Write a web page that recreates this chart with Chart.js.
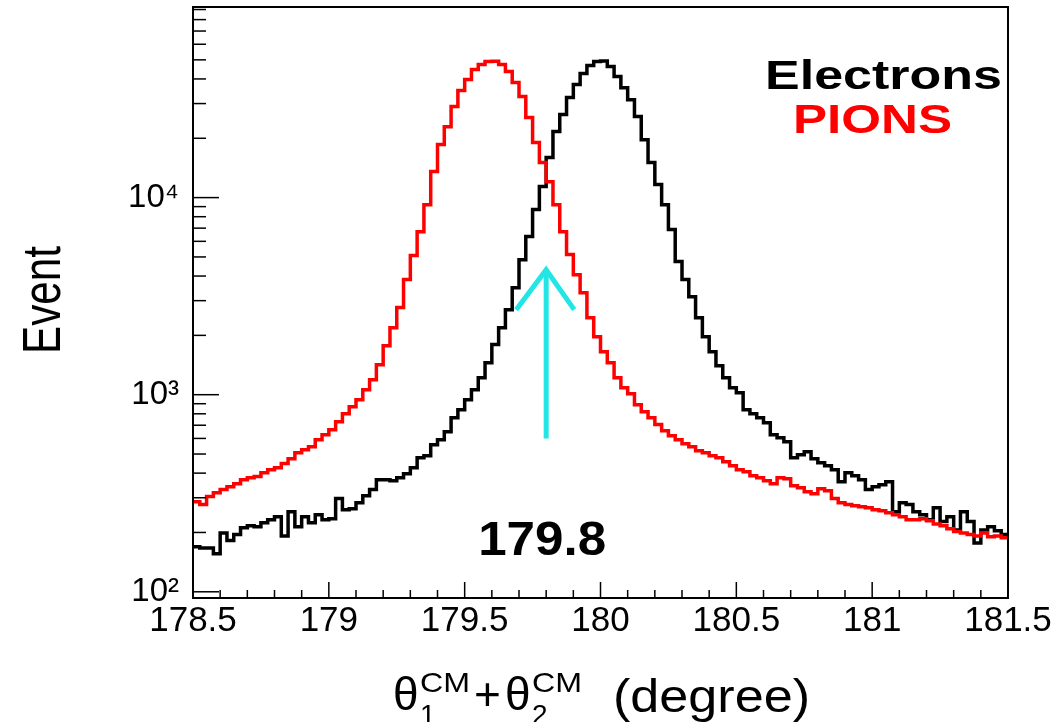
<!DOCTYPE html>
<html>
<head>
<meta charset="utf-8">
<script src="https://cdn.jsdelivr.net/npm/chart.js@4.4.1/dist/chart.umd.min.js"></script>
<style>
  body { margin: 0; background: #fff; }
  #wrap { width: 1060px; height: 722px; }
</style>
</head>
<body>
<div id="wrap"><canvas id="myChart" width="1060" height="722"></canvas></div>
<script>
// histogram binning (degrees)
const xMin = 178.5;
const xMax = 181.5;
const binWidth = 0.025;

// counts per bin
const electrons = [
  169, 167, 167, 156, 199, 182, 195, 211, 216, 214,
  224, 232, 240, 192, 255, 214, 240, 224, 246, 232,
  235, 297, 261, 264, 283, 307, 330, 370, 370, 366,
  379, 397, 426, 479, 490, 557, 591, 649, 764, 839,
  943, 1060, 1219, 1453, 1795, 2188, 2700, 3492, 4842, 6340,
  8690, 11370, 15960, 21630, 26380, 32180, 37500, 42580, 46770, 48980,
  49300, 46240, 41110, 36140, 31410, 25770, 19680, 15060, 11640, 9210,
  6880, 4735, 3837, 3143, 2460, 1970, 1652, 1403, 1219, 1086,
  1023, 839, 801, 764, 721, 627, 605, 577, 479, 496,
  514, 473, 452, 436, 416, 362, 402, 388, 370, 330,
  341, 349, 362, 255, 283, 277, 255, 246, 232, 267,
  227, 240, 206, 255, 227, 177, 206, 214, 204, 195,
];
const pions = [
  286, 277, 304, 318, 330, 341, 353, 370, 379, 384,
  402, 416, 426, 447, 473, 508, 526, 545, 591, 627,
  664, 729, 801, 869, 943, 1060, 1191, 1420, 1774, 2188,
  2766, 3837, 5080, 6720, 9210, 13550, 18580, 22910, 28970, 34910,
  39700, 44670, 47300, 48980, 49200, 47300, 43600, 38370, 32580, 25470,
  19010, 15060, 12050, 9210, 6720, 5140, 4065, 3295, 2460, 1970,
  1652, 1453, 1219, 1086, 1012, 889, 820, 764, 705, 656,
  619, 591, 564, 545, 520, 508, 490, 479, 457, 436,
  416, 406, 388, 379, 366, 353, 379, 375, 345, 337,
  322, 314, 333, 326, 297, 283, 277, 273, 270, 267,
  261, 258, 252, 246, 240, 232, 232, 235, 229, 221,
  216, 209, 202, 199, 195, 192, 199, 190, 192, 188,
];

// axis ranges
const yMin = 93;
const yMax = 92700;
const superscripts = { 2: "\u00b2", 3: "\u00b3", 4: "\u2074" };

// cut marker
const cutValue = 179.8;
const cutLabel = "179.8";
const arrowFrom = 600;
const arrowTo = 4300;
const arrowHead = 2700;

const FONT = '"Liberation Sans", Arial, Helvetica, sans-serif';

function toPoints(counts) {
  let pts = [];
  for (let i = 0; i < counts.length; i++) {
    pts.push({ x: xMin + i * binWidth, y: counts[i] });
  }
  pts.push({ x: xMax, y: counts[counts.length - 1] });
  return pts;
}

function drawFit(ctx, txt, x, y, font, w, color) {
  ctx.save();
  ctx.font = font;
  const m = ctx.measureText(txt).width;
  ctx.translate(x, y);
  ctx.scale(w / m, 1);
  ctx.fillStyle = color;
  ctx.textAlign = "left";
  ctx.textBaseline = "alphabetic";
  ctx.fillText(txt, 0, 0);
  ctx.restore();
}

function line(ctx, x1, y1, x2, y2) {
  ctx.beginPath();
  ctx.moveTo(x1, y1);
  ctx.lineTo(x2, y2);
  ctx.stroke();
}

const decor = {
  id: "decor",
  afterDatasetsDraw(chart) {
    const ctx = chart.ctx;
    const a = chart.chartArea;
    const x = chart.scales.x;
    const y = chart.scales.y;
    ctx.save();

    // inward ticks, ROOT style
    ctx.strokeStyle = "#000";
    ctx.lineWidth = 1.5;
    for (let k = 0; k <= 30; k++) {
      const px = x.getPixelForValue(xMin + k * 0.1);
      const len = k % 5 === 0 ? 16 : 8;
      line(ctx, px, a.bottom, px, a.bottom - len);
    }
    for (let p = 1; p <= 4; p++) {
      for (let m = 1; m <= 9; m++) {
        const v = m * Math.pow(10, p);
        if (v < yMin || v > yMax) continue;
        const py = y.getPixelForValue(v);
        line(ctx, a.left, py, a.left + (m === 1 ? 26 : 13), py);
      }
    }

    // frame
    ctx.lineWidth = 2;
    ctx.strokeRect(a.left, a.top, a.right - a.left, a.bottom - a.top);

    // cyan arrow at the cut
    const ax = x.getPixelForValue(cutValue);
    const y0 = y.getPixelForValue(arrowFrom);
    const y1 = y.getPixelForValue(arrowTo);
    const yh = y.getPixelForValue(arrowHead);
    ctx.strokeStyle = "#22e6e6";
    ctx.lineWidth = 5;
    line(ctx, ax, y0, ax, y1);
    ctx.beginPath();
    ctx.moveTo(ax - 30, yh);
    ctx.lineTo(ax, y1);
    ctx.lineTo(ax + 28, yh);
    ctx.stroke();

    drawFit(ctx, cutLabel, ax - 68, 555, "bold 48px " + FONT, 128, "#000");

    // legend text
    drawFit(ctx, "Electrons", 765, 89, "bold 40px " + FONT, 237, "#000");
    drawFit(ctx, "PIONS", 793, 133, "bold 40px " + FONT, 159, "#ff0000");

    // y title
    ctx.save();
    ctx.translate(60, 354);
    ctx.rotate(-Math.PI / 2);
    drawFit(ctx, "Event", 0, 0, "54px " + FONT, 108, "#000");
    ctx.restore();

    // x title
    ctx.fillStyle = "#000";
    ctx.font = "46px " + FONT;
    ctx.textBaseline = "alphabetic";
    ctx.fillText("\u03b8", 393, 710);
    ctx.fillText("+", 474, 710);
    ctx.fillText("\u03b8", 505, 710);
    ctx.font = "28px " + FONT;
    ctx.fillText("1", 420, 724);
    ctx.fillText("2", 532, 724);
    drawFit(ctx, "CM", 420, 692, "28px " + FONT, 50, "#000");
    drawFit(ctx, "CM", 532, 692, "28px " + FONT, 50, "#000");
    drawFit(ctx, "(degree)", 613, 712, "46px " + FONT, 197, "#000");

    ctx.restore();
  },
};

function drawChart() {
  const ctx = document.getElementById("myChart").getContext("2d");
  const myChart = new Chart(ctx, {
    type: "line",
    data: {
      datasets: [
        {
          label: "PIONS",
          data: toPoints(pions),
          borderColor: "#ff0000",
          borderWidth: 3.5,
          stepped: "before",
          pointRadius: 0,
          fill: false,
        },
        {
          label: "Electrons",
          data: toPoints(electrons),
          borderColor: "#000000",
          borderWidth: 3.5,
          stepped: "before",
          pointRadius: 0,
          fill: false,
        },
      ],
    },
    options: {
      animation: false,
      responsive: false,
      devicePixelRatio: 1,
      layout: { padding: { top: 7, right: 52, left: 0, bottom: 0 } },
      plugins: {
        legend: { display: false },
        tooltip: { enabled: false },
      },
      scales: {
        x: {
          type: "linear",
          min: xMin,
          max: xMax,
          grid: { display: false, drawTicks: false },
          border: { display: false },
          ticks: {
            stepSize: 0.5,
            padding: 2,
            color: "#000",
            font: { family: FONT, size: 35 },
            maxRotation: 0,
            autoSkip: false,
            callback: (v) => String(v),
          },
          afterFit: (s) => {
            s.height = 124;
            s.paddingLeft = 0;
            s.paddingRight = 0;
          },
        },
        y: {
          type: "logarithmic",
          min: yMin,
          max: yMax,
          grid: { display: false, drawTicks: false },
          border: { display: false },
          ticks: {
            padding: 14,
            color: "#000",
            font: { family: FONT, size: 33 },
            autoSkip: false,
            callback: (v) => {
              const e = Math.log10(v);
              const r = Math.round(e);
              if (Math.abs(e - r) < 1e-6 && superscripts[r]) return "10" + superscripts[r];
              return "";
            },
          },
          afterFit: (s) => {
            s.width = 193;
            s.paddingTop = 0;
            s.paddingBottom = 0;
          },
        },
      },
    },
    plugins: [decor],
  });
}

drawChart();
</script>
</body>
</html>
